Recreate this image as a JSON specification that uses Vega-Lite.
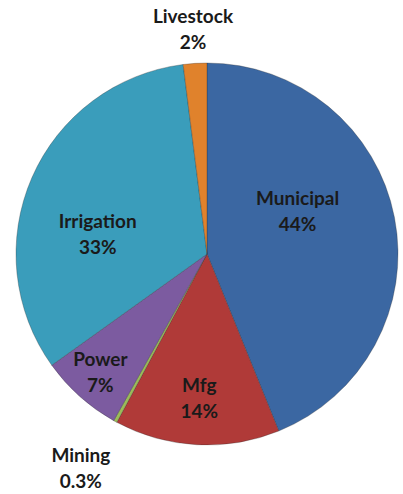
{
  "$schema": "https://vega.github.io/schema/vega-lite/v6.json",
  "width": 392,
  "height": 484,
  "padding": {"left": 11, "top": 12, "right": 0, "bottom": 0},
  "autosize": {"type": "none"},
  "background": "white",
  "view": {"stroke": null},
  "data": {"values": [
    {"sector": "Municipal", "share": 44, "pct": "44%", "order": 1},
    {"sector": "Mfg", "share": 14, "pct": "14%", "order": 2},
    {"sector": "Mining", "share": 0.3, "pct": "0.3%", "order": 3},
    {"sector": "Power", "share": 7, "pct": "7%", "order": 4},
    {"sector": "Irrigation", "share": 33, "pct": "33%", "order": 5},
    {"sector": "Livestock", "share": 2, "pct": "2%", "order": 6}
  ]},
  "transform": [
    {"calculate": "datum.sector + '\\n' + datum.pct", "as": "label"},
    {"stack": "share", "groupby": [], "sort": [{"field": "order", "order": "ascending"}], "as": ["s0", "s1"]},
    {"calculate": "(datum.s0 + datum.s1) / 2", "as": "mid"}
  ],
  "layer": [
    {
      "mark": {"type": "arc", "outerRadius": 191, "stroke": "#2a2a2a", "strokeWidth": 0.3},
      "encoding": {
        "theta": {"field": "s0", "type": "quantitative", "stack": null, "scale": {"domain": [0, 100.3]}},
        "theta2": {"field": "s1"},
        "color": {
          "field": "sector", "type": "nominal", "legend": null,
          "scale": {
            "domain": ["Municipal", "Mfg", "Mining", "Power", "Irrigation", "Livestock"],
            "range": ["#3B67A2", "#B03A38", "#9BBB59", "#7C5BA0", "#3A9DBB", "#E0822C"]
          }
        }
      }
    },
    {
      "transform": [{"filter": "datum.sector == 'Municipal'"}],
      "mark": {"type": "text", "radius": 100, "thetaOffset": -0.245, "dy": -13, "font": "Lato", "fontWeight": "bold", "fontSize": 19, "lineBreak": "\n", "lineHeight": 26, "color": "#1a1a1a"},
      "encoding": {"theta": {"field": "mid", "type": "quantitative", "stack": null, "scale": {"domain": [0, 100.3]}}, "text": {"field": "label"}}
    },
    {
      "transform": [{"filter": "datum.sector == 'Mfg'"}],
      "mark": {"type": "text", "radius": 145, "dy": -13, "font": "Lato", "fontWeight": "bold", "fontSize": 19, "lineBreak": "\n", "lineHeight": 26, "color": "#1a1a1a"},
      "encoding": {"theta": {"field": "mid", "type": "quantitative", "stack": null, "scale": {"domain": [0, 100.3]}}, "text": {"field": "label"}}
    },
    {
      "transform": [{"filter": "datum.sector == 'Power'"}],
      "mark": {"type": "text", "radius": 160, "dy": -13, "font": "Lato", "fontWeight": "bold", "fontSize": 19, "lineBreak": "\n", "lineHeight": 26, "color": "#1a1a1a"},
      "encoding": {"theta": {"field": "mid", "type": "quantitative", "stack": null, "scale": {"domain": [0, 100.3]}}, "text": {"field": "label"}}
    },
    {
      "transform": [{"filter": "datum.sector == 'Mining'"}],
      "mark": {"type": "text", "radius": 249, "thetaOffset": 0.03, "dy": -13, "font": "Lato", "fontWeight": "bold", "fontSize": 19, "lineBreak": "\n", "lineHeight": 26, "color": "#1a1a1a"},
      "encoding": {"theta": {"field": "mid", "type": "quantitative", "stack": null, "scale": {"domain": [0, 100.3]}}, "text": {"field": "label"}}
    },
    {
      "transform": [{"filter": "datum.sector == 'Irrigation'"}],
      "mark": {"type": "text", "radius": 111, "thetaOffset": -0.236, "dy": -13, "font": "Lato", "fontWeight": "bold", "fontSize": 19, "lineBreak": "\n", "lineHeight": 26, "color": "#1a1a1a"},
      "encoding": {"theta": {"field": "mid", "type": "quantitative", "stack": null, "scale": {"domain": [0, 100.3]}}, "text": {"field": "label"}}
    },
    {
      "transform": [{"filter": "datum.sector == 'Livestock'"}],
      "mark": {"type": "text", "radius": 224, "dy": -13, "font": "Lato", "fontWeight": "bold", "fontSize": 19, "lineBreak": "\n", "lineHeight": 26, "color": "#1a1a1a"},
      "encoding": {"theta": {"field": "mid", "type": "quantitative", "stack": null, "scale": {"domain": [0, 100.3]}}, "text": {"field": "label"}}
    }
  ]
}
